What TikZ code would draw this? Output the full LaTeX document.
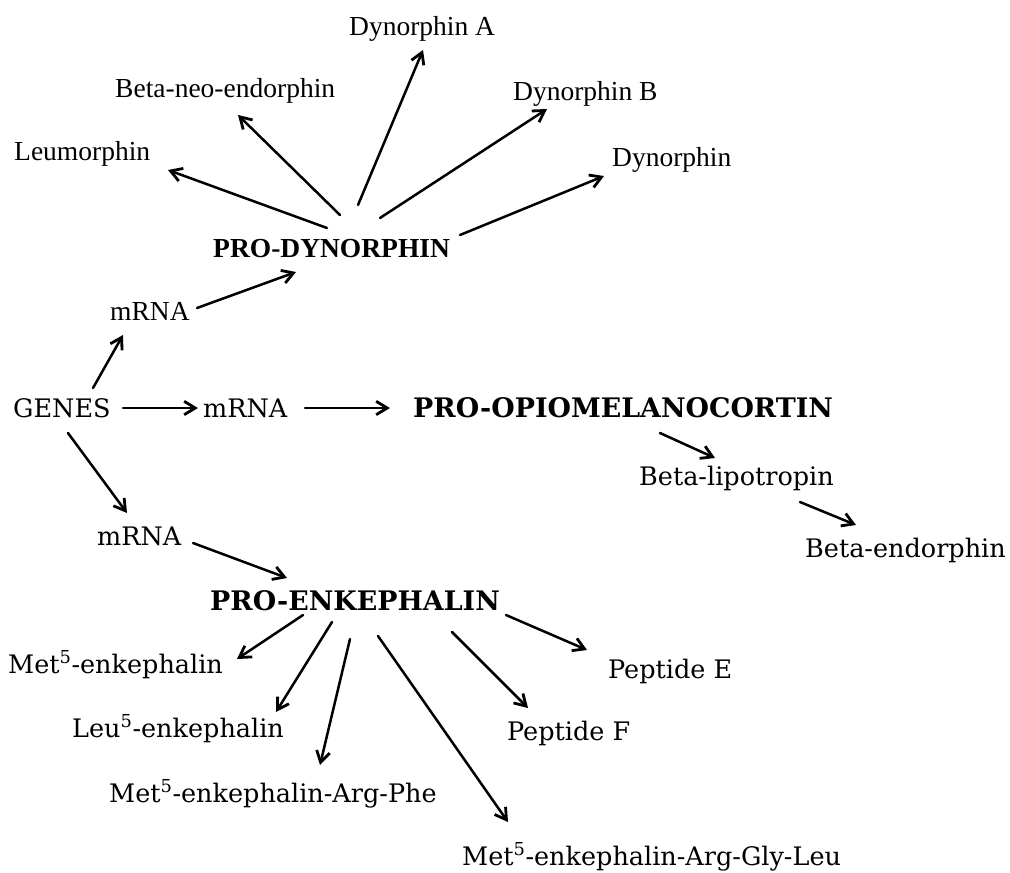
\documentclass[tikz,border=0pt]{standalone}
\usepackage{fontspec}
\setmainfont{Liberation Serif}
\newfontfamily\timesf{Liberation Serif}
\newfontfamily\schf{DejaVu Serif}
\usetikzlibrary{arrows.meta}
\tikzset{
  up/.style={anchor=base west, inner sep=0pt, font=\timesf\fontsize{27.5}{30}\selectfont},
  upb/.style={up, font=\timesf\bfseries\fontsize{27.5}{30}\selectfont},
  lo/.style={anchor=base west, inner sep=0pt, font=\schf\fontsize{25.5}{28}\selectfont},
  lob/.style={lo, font=\schf\bfseries\fontsize{26.9}{30}\selectfont},
  arr/.style={line width=2.5pt, line cap=round, -{Straight Barb[angle=62:13pt, line width=2.8pt]}},
}
\begin{document}
\begin{tikzpicture}[x=1pt,y=-1pt]
\useasboundingbox (0,0) rectangle (1010,873);
% upper
\node[up] (dynA) at (349,35) {Dynorphin A};
\node[up] (bneo) at (115,97) {Beta-neo-endorphin};
\node[up] (dynB) at (513,100) {Dynorphin B};
\node[up] (leum) at (14,160) {Leumorphin};
\node[up] (dyn) at (612,166) {Dynorphin};
\node[upb] (prodyn) at (213,257) {PRO-DYNORPHIN};
\node[up] (mrna1) at (110,320) {mRNA};
% middle
\node[lo] (genes) at (13,417) {GENES};
\node[lo] (mrna2) at (203,417) {mRNA};
\node[lob] (pomc) at (413,417) {PRO-OPIOMELANOCORTIN};
\node[lo] (blip) at (639,485) {Beta-lipotropin};
\node[lo] (bend) at (805,557) {Beta-endorphin};
\node[lo] (mrna3) at (97,545) {mRNA};
% lower
\node[lob] (proenk) at (210,610) {PRO-ENKEPHALIN};
\node[lo] (met) at (8,673) {Met\textsuperscript{5}-enkephalin};
\node[lo] (pepE) at (608,678) {Peptide E};
\node[lo] (leu) at (72,737) {Leu\textsuperscript{5}-enkephalin};
\node[lo] (pepF) at (507,740) {Peptide F};
\node[lo] (metRP) at (109,802) {Met\textsuperscript{5}-enkephalin-Arg-Phe};
\node[lo] (metRGL) at (462,865) {Met\textsuperscript{5}-enkephalin-Arg-Gly-Leu};
% arrows from pro-dynorphin
\draw[arr] ([shift={(114,-29)}]prodyn.base west) -- ([shift={(154,10)}]leum.base west);
\draw[arr] ([shift={(127,-42)}]prodyn.base west) -- ([shift={(123,18)}]bneo.base west);
\draw[arr] ([shift={(145,-52)}]prodyn.base west) -- ([shift={(74,15)}]dynA.base west);
\draw[arr] ([shift={(167,-39)}]prodyn.base west) -- ([shift={(34,9)}]dynB.base west);
\draw[arr] ([shift={(247,-22)}]prodyn.base west) -- ([shift={(-8,10)}]dyn.base west);
\draw[arr] ([shift={(87,-12)}]mrna1.base west) -- ([shift={(83,15)}]prodyn.base west);
% from genes
\draw[arr] ([shift={(80,-29)}]genes.base west) -- ([shift={(13,15)}]mrna1.base west);
\draw[arr] ([shift={(110,-9)}]genes.base west) -- ([shift={(-5,-9)}]mrna2.base west);
\draw[arr] ([shift={(102,-9)}]mrna2.base west) -- ([shift={(-23,-9)}]pomc.base west);
\draw[arr] ([shift={(55,16)}]genes.base west) -- ([shift={(30,-32)}]mrna3.base west);
\draw[arr] ([shift={(96,-2)}]mrna3.base west) -- ([shift={(77,-32)}]proenk.base west);
% pomc chain
\draw[arr] ([shift={(247,16)}]pomc.base west) -- ([shift={(76,-27)}]blip.base west);
\draw[arr] ([shift={(161,17)}]blip.base west) -- ([shift={(51,-32)}]bend.base west);
% from pro-enkephalin
\draw[arr] ([shift={(93,5)}]proenk.base west) -- ([shift={(229,-14)}]met.base west);
\draw[arr] ([shift={(122,12)}]proenk.base west) -- ([shift={(204,-25)}]leu.base west);
\draw[arr] ([shift={(140,29)}]proenk.base west) -- ([shift={(211,-37)}]metRP.base west);
\draw[arr] ([shift={(168,26)}]proenk.base west) -- ([shift={(46,-43)}]metRGL.base west);
\draw[arr] ([shift={(242,22)}]proenk.base west) -- ([shift={(21,-32)}]pepF.base west);
\draw[arr] ([shift={(296,5)}]proenk.base west) -- ([shift={(-21,-28)}]pepE.base west);
\end{tikzpicture}
\end{document}
